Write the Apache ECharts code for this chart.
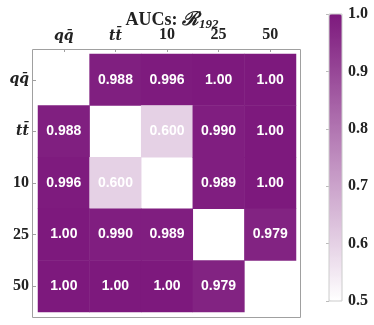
<!DOCTYPE html>
<html><head><meta charset="utf-8">
<script src="https://cdn.jsdelivr.net/npm/echarts@6/dist/echarts.min.js"></script>
<style>html,body{margin:0;padding:0;background:#fff}#c{width:374px;height:325px}</style>
</head><body><div id="c"></div>
<script>
const categories = ['qq̄', 'tt̄', '10', '25', '50'];
// AUC matrix rows (y) x columns (x); null = diagonal (empty)
const row_qq = [null, 0.988, 0.996, 1.00, 1.00];
const row_tt = [0.988, null, 0.600, 0.990, 1.00];
const row_10 = [0.996, 0.600, null, 0.989, 1.00];
const row_25 = [1.00, 0.990, 0.989, null, 0.979];
const row_50 = [1.00, 1.00, 1.00, 0.979, null];
const labels_qq = ['', '0.988', '0.996', '1.00', '1.00'];
const labels_tt = ['0.988', '', '0.600', '0.990', '1.00'];
const labels_10 = ['0.996', '0.600', '', '0.989', '1.00'];
const labels_25 = ['1.00', '0.990', '0.989', '', '0.979'];
const labels_50 = ['1.00', '1.00', '1.00', '0.979', ''];
const colorbarTicks = [0.5, 0.6, 0.7, 0.8, 0.9, 1.0];

const rows = [row_qq, row_tt, row_10, row_25, row_50];
const rowLabels = [labels_qq, labels_tt, labels_10, labels_25, labels_50];
const data = [];
rows.forEach((r, yi) => r.forEach((v, xi) => {
  if (v !== null) data.push({value: [xi, yi, v], label: rowLabels[yi][xi]});
}));

const serif = '"Liberation Serif", "DejaVu Serif", serif';
const fmtCat = v => (v.startsWith('q') || v.startsWith('t')) ? '{i|' + v + '}' : v;
const catRich = {i: {fontFamily: '"DejaVu Serif", serif', fontWeight: 'bold', fontStyle: 'italic', fontSize: 14, color: '#222'}};
const chart = echarts.init(document.getElementById('c'));
const gL = 38, gT = 54, gW = 258, gH = 258;
chart.setOption({
  animation: false,
  title: {
    text: '{a|AUCs: }{r|ℛ}{s|192}',
    left: gL + gW / 2, top: 5, textAlign: 'center',
    textStyle: {
      rich: {
        a: {fontFamily: serif, fontWeight: 'bold', fontSize: 18, color: '#222'},
        r: {fontFamily: serif, fontStyle: 'italic', fontWeight: 'bold', fontSize: 19, color: '#222'},
        s: {fontFamily: serif, fontStyle: 'italic', fontWeight: 'bold', fontSize: 13, color: '#222', padding: [8, 0, 0, 0]}
      }
    }
  },
  grid: [
    {left: gL, top: gT, width: gW, height: gH},
    {left: 329, top: 14, width: 13, height: 287, show: true, borderColor: '#cccccc', borderWidth: 1, z: 5}
  ],
  xAxis: [
    {type: 'category', data: categories, position: 'top', offset: 5, gridIndex: 0,
     axisLine: {show: false}, splitLine: {show: false},
     axisTick: {show: true, inside: true, alignWithLabel: true, length: 3, lineStyle: {color: '#a0a0a0'}},
     axisLabel: {fontFamily: serif, fontWeight: 'bold', fontSize: 16, color: '#222', margin: 6,
       formatter: fmtCat, rich: catRich}},
    {type: 'value', gridIndex: 1, show: false, min: 0, max: 1}
  ],
  yAxis: [
    {type: 'category', data: categories, inverse: true, offset: 5, gridIndex: 0,
     axisLine: {show: false}, splitLine: {show: false},
     axisTick: {show: true, inside: true, alignWithLabel: true, length: 3, lineStyle: {color: '#a0a0a0'}},
     axisLabel: {fontFamily: serif, fontWeight: 'bold', fontSize: 16, color: '#222', margin: 4,
       formatter: fmtCat, rich: catRich}},
    {type: 'value', gridIndex: 1, position: 'right', min: colorbarTicks[0], max: colorbarTicks[colorbarTicks.length - 1], interval: 0.1,
     axisLine: {show: false}, splitLine: {show: false},
     axisTick: {show: true, inside: true, length: 3, lineStyle: {color: '#bbbbbb'}},
     axisLabel: {fontFamily: serif, fontWeight: 'bold', fontSize: 16, color: '#222', margin: 6,
       formatter: v => v.toFixed(1)}}
  ],
  visualMap: {
    type: 'continuous', min: 0.5, max: 1, calculable: false, seriesIndex: 0,
    left: 329, top: 14, padding: 0, itemWidth: 13, itemHeight: 287, text: null, showLabel: false,
    inRange: {color: ['#ffffff', '#7d197d']}
  },
  graphic: [
    {type: 'rect', shape: {x: 32.5, y: 49.5, width: 268, height: 268}, silent: true,
     style: {fill: 'none', stroke: '#a0a0a0', lineWidth: 1}}
  ],
  series: [{
    type: 'heatmap', xAxisIndex: 0, yAxisIndex: 0, data: data,
    label: {show: true, color: '#fff', fontFamily: '"Liberation Sans", Arial, sans-serif', fontWeight: 'bold', fontSize: 14,
      formatter: p => p.data.label},
    itemStyle: {borderWidth: 0}
  }]
});
</script></body></html>
